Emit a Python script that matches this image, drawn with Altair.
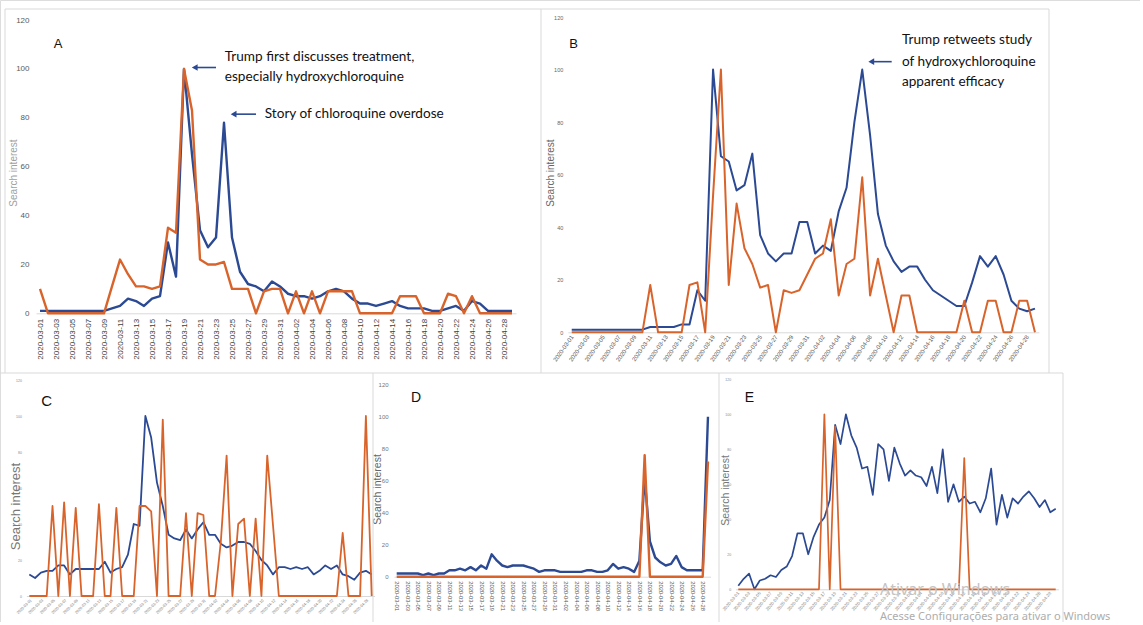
import altair as alt
import pandas as pd

DATES = [f"2020-03-{d:02d}" for d in range(1, 32)] + [f"2020-04-{d:02d}" for d in range(1, 30)]
X_TICKS = list(range(0, 60, 2))
Y_TICKS = [0, 20, 40, 60, 80, 100, 120]

A_BLUE = [1, 1, 1, 1, 1, 1, 1, 1, 1, 2, 3, 6, 5, 3, 6, 7, 29, 15, 100, 65,
          34, 27, 31, 78, 31, 17, 12, 11, 9, 13, 11, 8, 7, 7, 6, 7, 9, 10, 9, 6,
          4, 4, 3, 4, 5, 3, 2, 2, 2, 1, 1, 2, 3, 1, 5, 4, 1, 1, 1, 1]
A_ORANGE = [10, 0, 0, 0, 0, 0, 0, 0, 0, 11, 22, 16, 11, 11, 10, 11, 35, 33, 100, 83,
            22, 20, 20, 21, 10, 10, 10, 0, 9, 10, 10, 0, 9, 0, 9, 0, 9, 9, 9, 9,
            0, 0, 0, 0, 0, 7, 7, 7, 0, 0, 0, 8, 7, 0, 7, 0, 0, 0, 0, 0]
B_BLUE = [1, 1, 1, 1, 1, 1, 1, 1, 1, 1, 2, 2, 2, 2, 3, 3, 16, 12, 100, 67,
          65, 54, 56, 68, 37, 30, 27, 30, 30, 42, 42, 30, 33, 31, 46, 55, 80, 100, 75, 45,
          33, 27, 23, 25, 25, 20, 16, 14, 12, 10, 10, 19, 29, 25, 29, 22, 12, 9, 8, 9]
B_ORANGE = [0, 0, 0, 0, 0, 0, 0, 0, 0, 0, 18, 0, 0, 0, 0, 18, 19, 0, 52, 100,
            18, 49, 32, 26, 17, 18, 0, 16, 15, 16, 22, 28, 30, 43, 14, 26, 28, 59, 14, 28,
            14, 0, 14, 14, 0, 0, 0, 0, 0, 0, 12, 0, 0, 12, 12, 0, 0, 12, 12, 0]
C_BLUE = [12, 10, 13, 14, 14, 17, 17, 12, 15, 15, 15, 15, 15, 19, 13, 15, 16, 23, 40, 39,
          100, 88, 63, 50, 34, 32, 31, 37, 32, 37, 41, 34, 34, 29, 27, 28, 30, 30, 29, 25,
          20, 17, 12, 16, 16, 15, 16, 15, 16, 12, 14, 17, 15, 17, 12, 11, 9, 13, 14, 12]
C_ORANGE = [0, 0, 0, 0, 50, 0, 52, 0, 49, 0, 0, 0, 51, 0, 0, 49, 0, 0, 0, 50,
            50, 47, 0, 98, 0, 0, 0, 46, 0, 46, 45, 0, 0, 30, 78, 0, 40, 43, 0, 43,
            0, 78, 39, 0, 0, 0, 0, 0, 0, 0, 0, 0, 0, 0, 35, 0, 0, 0, 100, 0]
D_BLUE = [2, 2, 2, 2, 2, 1, 2, 1, 2, 2, 4, 4, 5, 4, 6, 4, 7, 5, 14, 10,
          7, 6, 7, 7, 7, 6, 5, 3, 4, 4, 4, 3, 3, 3, 3, 3, 4, 4, 3, 3,
          4, 8, 5, 6, 5, 3, 10, 62, 22, 12, 9, 7, 8, 13, 6, 4, 4, 4, 4, 100]
D_ORANGE = [0] * 47 + [76] + [0] * 11 + [72]
E_BLUE = [2, 6, 9, 0, 5, 6, 8, 7, 11, 13, 19, 32, 32, 20, 30, 37, 41, 51, 94, 83,
          100, 88, 81, 69, 70, 54, 83, 80, 62, 81, 72, 65, 68, 65, 64, 59, 70, 55, 80, 50,
          60, 50, 53, 49, 50, 44, 52, 69, 37, 54, 41, 52, 49, 53, 56, 52, 47, 51, 44, 46]
E_ORANGE = [0] * 16 + [100, 0, 93] + [0] * 23 + [75] + [0] * 17

BLUE = "#2B4A93"
ORANGE = "#D9642B"
FRAME = "#d9d9d9"
ANN_FONT = "Lato"
LABEL_EXPR = "[" + ",".join(f"'{d}'" for d in DATES) + "][datum.value]"
ONE = pd.DataFrame({"k": [0]})
CW, CH = 1140, 622  # whole canvas


def panel(blue, orange, xr, yr, xkw, ykw, title_xy, sw, letter,
          texts=None, arrows=None, extra=None):
    df = pd.DataFrame({"i": list(range(60)) * 2, "v": blue + orange,
                       "s": ["blue"] * 60 + ["orange"] * 60})
    xenc = alt.X("i:Q", scale=alt.Scale(domain=[-0.5, 59.5], range=list(xr), nice=False, zero=False),
                 axis=alt.Axis(orient="bottom", offset=yr[0] - CH, values=X_TICKS,
                               labelExpr=LABEL_EXPR, grid=False, ticks=False,
                               domain=True, domainColor=FRAME, title=None,
                               labelOverlap=False, labelFlush=False,
                               labelFont="Liberation Sans", **xkw))
    yenc = alt.Y("v:Q", scale=alt.Scale(domain=[0, 120], range=list(yr), nice=False),
                 axis=alt.Axis(orient="left", offset=-xr[0], values=Y_TICKS, grid=False,
                               ticks=False, domain=False, labelOverlap=False, labelFlush=False,
                               labelFont="Liberation Sans",
                               title="Search interest", titleAngle=270, titleAlign="center",
                               titleBaseline="middle", titleFontWeight="normal",
                               titleFont="Liberation Sans",
                               titleX=title_xy[0] - xr[0], titleY=title_xy[1], **ykw))
    layers = [alt.Chart(df).mark_line(strokeWidth=sw, strokeJoin="round").encode(
        x=xenc, y=yenc,
        color=alt.Color("s:N", scale=alt.Scale(domain=["blue", "orange"], range=[BLUE, ORANGE]),
                        legend=None))]
    li, lv, lt, lsize = letter
    layers.append(alt.Chart(pd.DataFrame({"i": [li], "v": [lv], "t": [lt]})).mark_text(
        align="center", baseline="middle", font="Liberation Sans", fontSize=lsize,
        color="#111111").encode(x=xenc, y=yenc, text="t:N"))
    if texts:
        layers.append(alt.Chart(pd.DataFrame(texts)).mark_text(
            align="left", baseline="middle", font=ANN_FONT, fontSize=13.6,
            color="#111111").encode(x=xenc, y=yenc, text="t:N"))
    if arrows:
        adf = pd.DataFrame(arrows)
        layers.append(alt.Chart(adf).mark_rule(color=BLUE, strokeWidth=1.6).encode(
            x=xenc, x2="i2:Q", y=yenc))
        layers.append(alt.Chart(adf).mark_point(shape="triangle-left", filled=True, size=45,
                                                color=BLUE, opacity=1).encode(x=xenc, y=yenc))
    if extra:
        layers.extend(extra(xenc, yenc))
    return alt.layer(*layers)


A = panel(A_BLUE, A_ORANGE, (36, 516), (313.3, 20.1),
          dict(labelAngle=-90, labelFontSize=8, labelColor="#404040", labelPadding=5),
          dict(labelFontSize=8, labelColor="#595959", labelPadding=7,
               titleFontSize=10, titleColor="#a0a0a0"),
          (13, 172.5), 2.4, (2.25, 110.3, "A", 13),
          texts={"i": [23.1, 23.1, 28.1],
                 "v": [104.9, 96.7, 81.5],
                 "t": ["Trump first discusses treatment,", "especially hydroxychloroquine",
                       "Story of chloroquine overdose"]},
          arrows={"i": [19.34, 24.2], "i2": [22.0, 27.0], "v": [100.6, 81.5]})

B = panel(B_BLUE, B_ORANGE, (567.8, 1038.9), (332.3, 17.0),
          dict(labelAngle=-55, labelFontSize=6, labelColor="#595959", labelPadding=3),
          dict(labelFontSize=5.5, labelColor="#666666", labelPadding=5,
               titleFontSize=10, titleColor="#666666"),
          (550, 172.5), 2.0, (0.23, 109.9, "B", 13),
          texts={"i": [42.06, 42.06, 42.06],
                 "v": [111.2, 103.0, 95.4],
                 "t": ["Trump retweets study", "of hydroxychloroquine", "apparent efficacy"]},
          arrows={"i": [38.15], "i2": [40.75], "v": [103.0]})

C = panel(C_BLUE, C_ORANGE, (26.4, 374.6), (596.0, 380.0),
          dict(labelAngle=-45, labelFontSize=3.8, labelColor="#777777", labelPadding=2),
          dict(labelFontSize=3.5, labelColor="#888888", labelPadding=5,
               titleFontSize=13, titleColor="#777777"),
          (15, 506), 1.8, (3.0, 108.6, "C", 15))

D = panel(D_BLUE, D_ORANGE, (394.06, 710.6), (576.7, 384.7),
          dict(labelAngle=90, labelFontSize=5.8, labelColor="#555555", labelPadding=4),
          dict(labelFontSize=6, labelColor="#777777", labelPadding=6,
               titleFontSize=10.5, titleColor="#666666"),
          (377, 489), 2.4, (3.66, 111.7, "D", 14))


def watermark(xenc, yenc):
    wm = pd.DataFrame({"i": [26.34], "v": [-0.4], "t": ["Ativar o Windows"]})
    wm2 = pd.DataFrame({"i": [26.34], "v": [-15.7],
                        "t": ["Acesse Configurações para ativar o Windows"]})
    return [
        alt.Chart(wm).mark_text(align="left", baseline="middle", font="Noto Sans", fontSize=16,
                                color="#c4c4c4").encode(x=xenc, y=yenc, text="t:N"),
        alt.Chart(wm2).mark_text(align="left", baseline="middle", font="Noto Sans", fontSize=11,
                                 color="#adadad").encode(x=xenc, y=yenc, text="t:N"),
    ]


E = panel(E_BLUE, E_ORANGE, (735.6, 1058.4), (589.3, 379.3),
          dict(labelAngle=-50, labelFontSize=4.5, labelColor="#8a8a8a", labelPadding=3),
          dict(labelFontSize=3.5, labelColor="#888888", labelPadding=5,
               titleFontSize=10.5, titleColor="#777777"),
          (725, 490), 1.7, (2.08, 109.6, "E", 14), extra=watermark)

# light panel frames (screen pixels)
FRAME_SEGS = [
    (5, 9, 1049, 9), (5, 9, 5, 373), (541, 9, 541, 373), (1049, 9, 1049, 373),
    (0, 373, 1063, 373), (373, 373, 373, 622), (719, 373, 719, 622), (1063, 373, 1063, 622),
]
frames = [alt.Chart(ONE).mark_rule(color=FRAME, strokeWidth=1).encode(
    x=alt.value(x1), x2=alt.value(x2), y=alt.value(y1), y2=alt.value(y2))
    for (x1, y1, x2, y2) in FRAME_SEGS]

chart = alt.layer(*frames, A, B, C, D, E).resolve_scale(
    x="independent", y="independent").resolve_axis(
    x="independent", y="independent").properties(
    width=CW, height=CH, padding=0, autosize=alt.AutoSizeParams(type="none")).configure_view(
    stroke=None).configure(background="white")

chart.save("out.html", embed_options={"renderer": "svg", "actions": False})
